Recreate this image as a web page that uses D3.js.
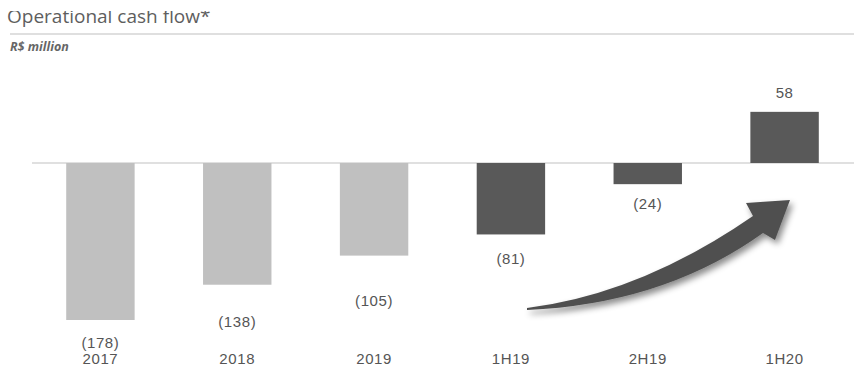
<!DOCTYPE html>
<html>
<head>
<meta charset="utf-8">
<script src="https://cdn.jsdelivr.net/npm/d3@7"></script>
<style>
  html, body { margin: 0; padding: 0; background: #fff; }
  svg { display: block; }
</style>
</head>
<body>
<svg id="chart" width="854" height="366"></svg>
<script>
// ---- data ----
const categories = ["2017", "2018", "2019", "1H19", "2H19", "1H20"];
const values = [-178, -138, -105, -81, -24, 58];
const valueLabels = ["(178)", "(138)", "(105)", "(81)", "(24)", "58"];
const highlighted = [false, false, false, true, true, true];
const title = "Operational cash flow*";
const unitLabel = "R$ million";

// ---- layout ----
const W = 854, H = 366;
const svg = d3.select("#chart");
const labelOffsets = [28, 42, 50, 30, 25, -14]; // baseline offset from bar end

const x = d3.scaleBand().domain(categories).range([32, 853])
  .paddingInner(0.5).paddingOuter(0.25);
const yScale = d3.scaleLinear().domain([-178, 0]).range([320, 163]);

const defs = svg.append("defs");
const f = defs.append("filter").attr("id", "shadow")
  .attr("x", "-20%").attr("y", "-20%").attr("width", "140%").attr("height", "160%");
f.append("feDropShadow").attr("dx", 3).attr("dy", 4).attr("stdDeviation", 3)
  .attr("flood-color", "#000").attr("flood-opacity", 0.45);
defs.append("clipPath").attr("id", "titleClip")
  .append("rect").attr("x", 0).attr("y", 11).attr("width", W).attr("height", 30);

// title (top of glyphs cropped as in the source)
svg.append("text").attr("x", 7).attr("y", 23)
  .attr("clip-path", "url(#titleClip)")
  .attr("font-family", "'Open Sans', sans-serif").attr("font-size", 19)
  .attr("fill", "#5e5e5e").text(title);
svg.append("line").attr("x1", 10).attr("x2", W).attr("y1", 34).attr("y2", 34)
  .attr("stroke", "#d4d4d4").attr("stroke-width", 1.5);
svg.append("text").attr("x", 10).attr("y", 51)
  .attr("font-family", "'Open Sans', sans-serif").attr("font-size", 12.5)
  .attr("font-weight", "bold").attr("font-style", "italic")
  .attr("fill", "#666").text(unitLabel);

// zero line
svg.append("line").attr("x1", 32).attr("x2", W)
  .attr("y1", yScale(0)).attr("y2", yScale(0))
  .attr("stroke", "#d6d6d6").attr("stroke-width", 1.5);

// bars
svg.append("g").selectAll("rect").data(categories).join("rect")
  .attr("x", d => x(d))
  .attr("width", x.bandwidth())
  .attr("y", (d, i) => Math.min(yScale(values[i]), yScale(0)))
  .attr("height", (d, i) => Math.abs(yScale(values[i]) - yScale(0)))
  .attr("fill", (d, i) => highlighted[i] ? "#595959" : "#c0c0c0");

// value labels
svg.append("g").selectAll("text").data(categories).join("text")
  .attr("x", d => x(d) + x.bandwidth() / 2)
  .attr("y", (d, i) => yScale(values[i]) + labelOffsets[i])
  .attr("text-anchor", "middle")
  .attr("font-family", "'Liberation Sans', Arial, sans-serif")
  .attr("font-size", 15).attr("letter-spacing", 0.6).attr("fill", "#555")
  .text((d, i) => valueLabels[i]);

// category axis labels
const xAxis = d3.axisBottom(x).tickSize(0).tickPadding(0);
const gx = svg.append("g").attr("transform", "translate(0,364)").call(xAxis);
gx.select(".domain").remove();
gx.selectAll("text")
  .attr("font-family", "'Liberation Sans', Arial, sans-serif")
  .attr("font-size", 15).attr("letter-spacing", 0.6).attr("fill", "#555").attr("dy", 0);

// curved arrow
const p = d3.path();
p.moveTo(527, 310);
p.quadraticCurveTo(664, 304, 763, 233);
p.lineTo(775, 240);
p.lineTo(790, 200);
p.lineTo(746, 203);
p.lineTo(753, 216);
p.quadraticCurveTo(640, 294, 527, 308);
p.closePath();
svg.append("path").attr("d", p.toString())
  .attr("fill", "#505050").attr("filter", "url(#shadow)");
</script>
</body>
</html>
